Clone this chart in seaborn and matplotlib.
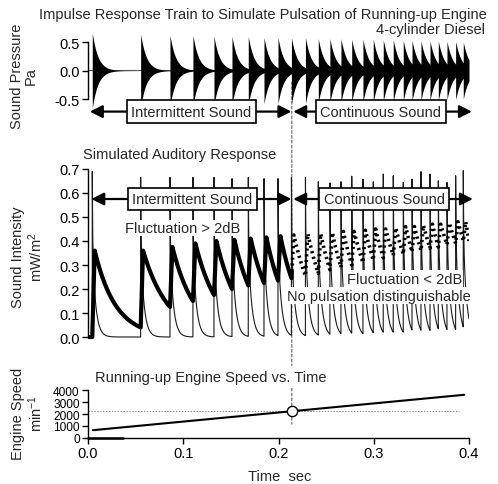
import numpy as np
import pandas as pd
import matplotlib
matplotlib.use("Agg")
import matplotlib.pyplot as plt
import seaborn as sns
from matplotlib.patches import ConnectionPatch

# ---------------- data ----------------
pulse_times = [0.0045, 0.0553, 0.0861, 0.1102, 0.1323, 0.1512, 0.1683, 0.1848, 0.1995,
               0.2136, 0.2283, 0.2418, 0.2540, 0.2656, 0.2769, 0.2887, 0.2995, 0.3100,
               0.3205, 0.3310, 0.3402, 0.3496, 0.3591, 0.3678, 0.3769, 0.3860, 0.3940]
pressure_amp = [0.66, 0.64, 0.62, 0.62, 0.60, 0.60, 0.60, 0.58, 0.58, 0.58, 0.58, 0.56,
                0.56, 0.56, 0.55, 0.55, 0.55, 0.54, 0.54, 0.53, 0.53, 0.52, 0.52, 0.52,
                0.51, 0.51, 0.50]
spike_peak = [0.690, 0.665, 0.665, 0.665, 0.665, 0.660, 0.665, 0.660, 0.660, 0.665,
              0.665, 0.647, 0.642, 0.647, 0.670, 0.658, 0.647, 0.679, 0.672, 0.644,
              0.658, 0.689, 0.679, 0.651, 0.644, 0.672, 0.693]
level_peak = [0.36, 0.36, 0.375, 0.39, 0.40, 0.405, 0.41, 0.415, 0.42, 0.425, 0.43, 0.43,
              0.435, 0.44, 0.44, 0.445, 0.45, 0.45, 0.455, 0.46, 0.46, 0.465, 0.47, 0.47,
              0.475, 0.48, 0.48]
level_trough = [0.04, 0.125, 0.15, 0.175, 0.20, 0.215, 0.225, 0.235, 0.245, 0.255, 0.265,
                0.28, 0.29, 0.30, 0.31, 0.32, 0.33, 0.34, 0.345, 0.355, 0.36, 0.37, 0.375,
                0.385, 0.39, 0.40, 0.40]
speed_time = [0.005, 0.395]
speed_rpm = [650, 3600]
transition_time = 0.214
transition_rpm = 2230
pressure_ticks = [-0.5, 0.0, 0.5]
intensity_ticks = [0.0, 0.1, 0.2, 0.3, 0.4, 0.5, 0.6, 0.7]
speed_ticks = [0, 1000, 2000, 3000, 4000]
time_ticks = [0.0, 0.1, 0.2, 0.3, 0.4]
t_end = 0.4

# ---------------- style ----------------
sns.set_theme(style="ticks")
plt.rcParams["font.family"] = ["Liberation Sans", "DejaVu Sans"]
plt.rcParams["mathtext.default"] = "regular"
plt.rcParams["axes.unicode_minus"] = False
FS = 10.5

W, H = 498, 485
fig = plt.figure(figsize=(W / 100, H / 100), dpi=100)


def px_box(l, t, r, b):
    return [l / W, 1 - b / H, (r - l) / W, (b - t) / H]


ax1 = fig.add_axes(px_box(88, 31.6, 469, 120))
ax2 = fig.add_axes(px_box(88, 165.2, 469, 342.8))
ax3 = fig.add_axes(px_box(88, 388.6, 469, 439))
for ax in (ax1, ax2, ax3):
    ax.patch.set_visible(False)
    ax.set_xlim(0, 0.4)

# ---------------- derived curves ----------------
t = np.linspace(0, t_end, 8001)

# pressure envelope of each impulse response
env = np.zeros_like(t)
for ti, a in zip(pulse_times, pressure_amp):
    m = t >= ti
    env[m] = np.maximum(env[m], a * np.exp(-(t[m] - ti) / 0.006))

# thin auditory response: narrow spike + fast decay
base = np.zeros_like(t)
for ti in pulse_times:
    m = t >= ti
    base[m] += 0.38 * np.exp(-(t[m] - ti) / 0.0035)
thin = base.copy()
for ti, sp in zip(pulse_times, spike_peak):
    m = t >= ti
    b0 = np.interp(ti, t, base)
    thin[m] += max(sp - b0, 0) * np.exp(-(t[m] - ti) / 0.0004)

# thick (integrated) response from read peaks and troughs
level = np.zeros_like(t)
rise = 0.0025
ends = pulse_times[1:] + [t_end]
prev = 0.0
for ti, te, pk, tr in zip(pulse_times, ends, level_peak, level_trough):
    m1 = (t >= ti) & (t < ti + rise)
    level[m1] = prev + (pk - prev) * (t[m1] - ti) / rise
    m2 = (t >= ti + rise) & (t <= te)
    level[m2] = pk * (tr / pk) ** ((t[m2] - ti - rise) / (te - ti - rise))
    prev = tr

# ---------------- top panel ----------------
ax1.fill_between(t, -env, env, color="black", lw=0, zorder=2)
sns.lineplot(x=t, y=np.zeros_like(t), ax=ax1, color="0.35", lw=0.8,
             estimator=None, sort=False, zorder=1)
ax1.set_ylim(-0.85, 0.7)
ax1.set_yticks(pressure_ticks)
ax1.set_yticklabels([f"{v:.1f}" for v in pressure_ticks])
ax1.spines["left"].set_bounds(-0.5, 0.5)
for s in ("top", "right", "bottom"):
    ax1.spines[s].set_visible(False)
ax1.set_xticks([])

# ---------------- middle panel ----------------
solid = t <= transition_time
dotted = t >= transition_time
sns.lineplot(x=t, y=thin, ax=ax2, color="0.1", lw=0.8, estimator=None, sort=False,
             zorder=3)
sns.lineplot(x=t[solid], y=level[solid], ax=ax2, color="black", lw=3.0,
             estimator=None, sort=False, zorder=4)
sns.lineplot(x=t[dotted], y=level[dotted], ax=ax2, color="black", lw=2.6,
             linestyle=(0, (0.6, 1.0)), estimator=None, sort=False, zorder=4)
ax2.set_ylim(-0.02, 0.72)
ax2.set_yticks(intensity_ticks)
ax2.set_yticklabels([f"{v:.1f}" for v in intensity_ticks])
ax2.spines["left"].set_bounds(0, 0.7)
for s in ("top", "right", "bottom"):
    ax2.spines[s].set_visible(False)
ax2.set_xticks([])

# ---------------- bottom panel ----------------
sns.lineplot(x=speed_time, y=speed_rpm, ax=ax3, color="black", lw=1.5,
             estimator=None, sort=False, zorder=3)
ax3.plot([0, 0.39], [transition_rpm, transition_rpm], ls=(0, (1.5, 1.5)),
         color="0.55", lw=0.7, zorder=2)
ax3.plot([0, 0.037], [0, 0], color="black", lw=1.8, zorder=3, clip_on=False)
sns.scatterplot(x=[transition_time], y=[transition_rpm], ax=ax3, s=55,
                facecolor="white", edgecolor="black", linewidth=1.0, zorder=5)
ax3.set_ylim(0, 4200)
ax3.set_yticks(speed_ticks)
ax3.set_yticklabels([str(v) for v in speed_ticks])
ax3.spines["left"].set_bounds(0, 4000)
ax3.set_xticks(time_ticks)
ax3.set_xticklabels([f"{v:.1f}" for v in time_ticks])
for s in ("top", "right"):
    ax3.spines[s].set_visible(False)

for ax in (ax1, ax2, ax3):
    ax.tick_params(axis="both", direction="out", length=4, width=1.0,
                   labelsize=FS, pad=2, color="black", labelcolor="black")
    for s in ax.spines.values():
        s.set_color("black")
        s.set_linewidth(1.0)
ax3.tick_params(axis="y", labelsize=8.6, pad=2)

# ---------------- transition dashed line ----------------
con = ConnectionPatch(xyA=(transition_time, -0.2), coordsA=ax1.transData,
                      xyB=(transition_time, 1150), coordsB=ax3.transData,
                      color="0.3", lw=0.7, linestyle=(0, (3, 2)))
con.set_zorder(-1)
fig.add_artist(con)


# ---------------- arrows with boxed labels ----------------
def arrow(ax, x0, x1, y):
    ax.annotate("", xy=(x0, y), xytext=(x1, y),
                arrowprops=dict(arrowstyle="<|-|>,head_length=0.75,head_width=0.38",
                                mutation_scale=10, lw=1.6, color="black",
                                shrinkA=0, shrinkB=0),
                annotation_clip=False, zorder=6)


def boxed(ax, x, y, s):
    ax.text(x, y, s, ha="center", va="center", fontsize=FS, zorder=7,
            bbox=dict(boxstyle="square,pad=0.3", facecolor="white",
                      edgecolor="black", lw=1.2))


arrow(ax1, 0.002, 0.2135, -0.72)
arrow(ax1, 0.2155, 0.403, -0.72)
boxed(ax1, 0.1087, -0.72, "Intermittent Sound")
boxed(ax1, 0.3075, -0.72, "Continuous Sound")

arrow(ax2, 0.0035, 0.2135, 0.575)
arrow(ax2, 0.2155, 0.404, 0.575)
boxed(ax2, 0.1097, 0.575, "Intermittent Sound")
boxed(ax2, 0.311, 0.575, "Continuous Sound")

plain_bbox = dict(boxstyle="square,pad=0.1", facecolor="white", edgecolor="none")
ax2.text(0.0389, 0.454, "Fluctuation > 2dB", ha="left", va="center", fontsize=FS,
         zorder=7, bbox=plain_bbox)
ax2.text(0.2716, 0.242, "Fluctuation < 2dB", ha="left", va="center", fontsize=FS,
         zorder=7, bbox=plain_bbox)
ax2.text(0.2086, 0.172, "No pulsation distinguishable", ha="left", va="center",
         fontsize=FS, zorder=7, bbox=plain_bbox)

# ---------------- titles and labels ----------------
fig.text(263 / W, 1 - 15 / H, "Impulse Response Train to Simulate Pulsation of Running-up Engine",
         ha="center", va="center", fontsize=FS)
fig.text(485 / W, 1 - 30 / H, "4-cylinder Diesel", ha="right", va="center", fontsize=FS)
fig.text(83 / W, 1 - 155 / H, "Simulated Auditory Response", ha="left", va="center",
         fontsize=FS)
fig.text(95 / W, 1 - 378 / H, "Running-up Engine Speed vs. Time", ha="left", va="center",
         fontsize=FS, zorder=3,
         bbox=dict(boxstyle="square,pad=0.25", facecolor="white", edgecolor="none"))

fig.text(24 / W, 1 - 76 / H, "Sound Pressure\nPa", rotation=90, ha="center",
         va="center", multialignment="center", fontsize=FS, linespacing=1.0)
fig.text(28 / W, 1 - 257 / H, "Sound Intensity\nmW/m$^2$", rotation=90, ha="center",
         va="center", multialignment="center", fontsize=FS, linespacing=1.1)
fig.text(28 / W, 1 - 414 / H, "Engine Speed\nmin$^{-1}$", rotation=90, ha="center",
         va="center", multialignment="center", fontsize=FS, linespacing=1.1)
fig.text(280 / W, 1 - 477 / H, "Time  sec", ha="center", va="center", fontsize=FS)

fig.savefig("out.png", dpi=100)
